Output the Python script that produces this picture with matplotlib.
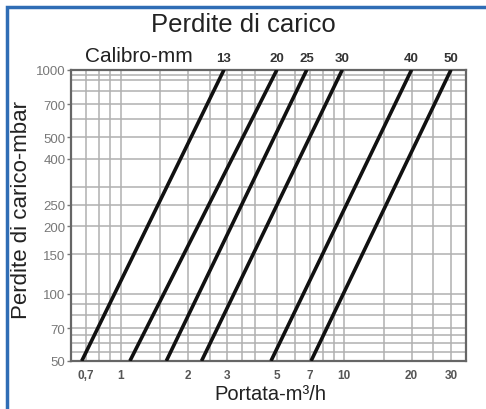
import matplotlib
matplotlib.use("Agg")
import matplotlib.pyplot as plt
from matplotlib.patches import Rectangle

plt.rcParams['font.family'] = ['Liberation Sans', 'DejaVu Sans']

# calibro (mm) e portata (m3/h) a 50 mbar e a 1000 mbar
calibri = ['13', '20', '25', '30', '40', '50']
q_50 = [0.67, 1.1, 1.6, 2.3, 4.7, 7.1]
q_1000 = [2.9, 5.0, 6.8, 9.8, 20.0, 30.0]
p_range = [50, 1000]

x_ticks = [0.7, 1, 2, 3, 5, 7, 10, 20, 30]
x_labels = ['0,7', '1', '2', '3', '5', '7', '10', '20', '30']
y_ticks = [50, 70, 100, 150, 200, 250, 400, 500, 700, 1000]
x_grid = [0.7, 0.8, 0.9, 1, 1.5, 2, 2.5, 3, 3.5, 4, 5, 6, 7, 8, 9, 10, 15, 20, 25, 30]
y_grid = [55, 60, 65, 70, 80, 90, 100, 150, 200, 250, 300, 400, 500, 600, 700, 800, 900, 950]

fig = plt.figure(figsize=(4.86, 4.10), dpi=100)
fig.patches.append(Rectangle((7 / 486, -0.05), 1.1, 1 - 8 / 410 + 0.05, transform=fig.transFigure,
                             fill=False, edgecolor='#2f6db5', linewidth=2.5))

ax = fig.add_axes([71 / 486, 1 - 362 / 410, (466 - 71) / 486, (362 - 70.7) / 410])
ax.set_xscale('log')
ax.set_yscale('log')
ax.set_xlim(0.6, 35)
ax.set_ylim(50, 1000)

for g in x_grid:
    ax.axvline(g, color='#b0b0b0', lw=1.1, zorder=1)
for g in y_grid:
    ax.axhline(g, color='#b0b0b0', lw=1.1, zorder=1)

for name, a, b in zip(calibri, q_50, q_1000):
    ax.plot([a, b], p_range, color='#111111', lw=2.6, solid_capstyle='butt', zorder=3)
    ax.text(b, 1.02, name, transform=ax.get_xaxis_transform(), ha='center', va='bottom',
            fontsize=9.5, fontweight='bold', color='#333333')

ax.set_xticks(x_ticks)
ax.set_xticklabels(x_labels)
ax.set_yticks(y_ticks)
ax.set_yticklabels([str(v) for v in y_ticks])
ax.minorticks_off()
ax.tick_params(axis='x', length=0, pad=6, labelsize=8.5, labelcolor='#555555')
ax.tick_params(axis='y', length=3, width=1, color='#777777', pad=1, labelsize=9.5, labelcolor='#777777')
for lab in ax.get_xticklabels():
    lab.set_fontweight('bold')
for sp in ax.spines.values():
    sp.set_color('#666666')
    sp.set_linewidth(1.6)

fig.text(0.5, 1 - 25 / 410, 'Perdite di carico', ha='center', va='center', fontsize=18.5, color='#222222')
fig.text(85 / 486, 1 - 57 / 410, 'Calibro-mm', ha='left', va='center', fontsize=15, color='#222222')
fig.text(0.557, 1 - 395 / 410, 'Portata-m³/h', ha='center', va='center', fontsize=14.5, color='#222222')
fig.text(22 / 486, 1 - 210 / 410, 'Perdite di carico-mbar', ha='center', va='center', rotation=90,
         fontsize=16, color='#222222')

fig.savefig('out.png', dpi=100, facecolor='white')
